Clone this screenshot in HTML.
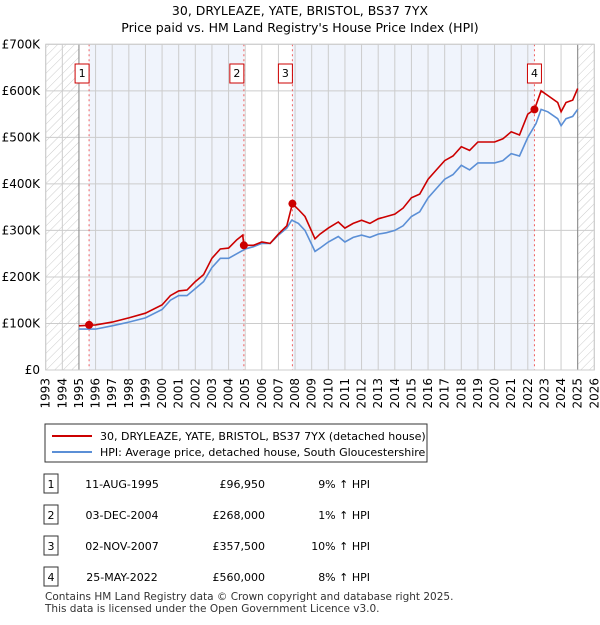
<!DOCTYPE html>
<html><head><meta charset="utf-8"><style>
body{margin:0;background:#fff;font-family:"Liberation Sans","DejaVu Sans",sans-serif;}
svg text{font-family:"DejaVu Sans","Liberation Sans",sans-serif;}
</style></head><body>
<svg id="c" width="600" height="620" xmlns="http://www.w3.org/2000/svg">
<defs><pattern id="h" width="6" height="6" patternUnits="userSpaceOnUse" patternTransform="rotate(45)"><line x1="0" y1="0" x2="0" y2="6" stroke="#ccc" stroke-width="1"/></pattern></defs>
<text x="300" y="15" text-anchor="middle" font-size="12.5">30, DRYLEAZE, YATE, BRISTOL, BS37 7YX</text>
<text x="300" y="32" text-anchor="middle" font-size="12.5">Price paid vs. HM Land Registry's House Price Index (HPI)</text>
<g id="plot"></g>
<g>
<rect x="45" y="424" width="382" height="38" fill="#fff" stroke="#333"/>
<line x1="52" y1="436" x2="92" y2="436" stroke="#cc0000" stroke-width="2"/>
<text x="100" y="440" font-size="11">30, DRYLEAZE, YATE, BRISTOL, BS37 7YX (detached house)</text>
<line x1="52" y1="452" x2="92" y2="452" stroke="#5b8fd6" stroke-width="2"/>
<text x="100" y="456" font-size="11">HPI: Average price, detached house, South Gloucestershire</text>
</g>
<g id="tbl" font-size="11"></g>
<text x="45" y="600" font-size="10.5" fill="#333">Contains HM Land Registry data © Crown copyright and database right 2025.</text>
<text x="45" y="612" font-size="10.5" fill="#333">This data is licensed under the Open Government Licence v3.0.</text>
</svg>
<script>
const hpiX=[1995.0,1996,1997,1998,1999,2000,2000.5,2001,2001.5,2002,2002.5,2003,2003.5,2004,2004.5,2005,2005.5,2006,2006.5,2007,2007.5,2007.8,2008.2,2008.6,2009.2,2009.5,2010,2010.6,2011,2011.5,2012,2012.5,2013,2013.5,2014,2014.5,2015,2015.5,2016,2016.5,2017,2017.5,2018,2018.5,2019,2019.5,2020,2020.5,2021,2021.5,2022,2022.5,2022.8,2023.2,2023.8,2024.0,2024.3,2024.7,2025.0];
const hpiV=[88,88,95,103,112,130,150,160,160,175,190,220,240,240,250,260,265,272,272,290,305,322,315,300,255,262,275,287,275,285,290,285,292,295,300,310,330,340,370,390,410,420,440,430,445,445,445,450,465,460,500,530,560,555,540,525,540,545,560];
const paidX=[1995.0,1996,1997,1998,1999,2000,2000.5,2001,2001.5,2002,2002.5,2003,2003.5,2004,2004.5,2004.85,2004.92,2005.5,2006,2006.5,2007,2007.5,2007.84,2008.2,2008.6,2009.2,2009.5,2010,2010.6,2011,2011.5,2012,2012.5,2013,2013.5,2014,2014.5,2015,2015.5,2016,2016.5,2017,2017.5,2018,2018.5,2019,2019.5,2020,2020.5,2021,2021.5,2022,2022.4,2022.8,2023.2,2023.8,2024.0,2024.3,2024.7,2025.0];
const paidV=[95,97,103,112,122,140,160,170,172,190,205,240,260,262,280,290,268,268,275,272,292,310,357.5,345,330,282,292,305,318,305,315,322,315,325,330,335,348,370,378,410,430,450,460,480,472,490,490,490,497,512,505,550,560,600,590,575,555,575,580,605];
const saleX=[1995.61,2004.92,2007.84,2022.4];
const saleV=[96.95,268,357.5,560];
const saleLabels=["1","2","3","4"];
const saleDates=["11-AUG-1995","03-DEC-2004","02-NOV-2007","25-MAY-2022"];
const salePrices=["£96,950","£268,000","£357,500","£560,000"];
const saleHpi=["9% ↑ HPI","1% ↑ HPI","10% ↑ HPI","8% ↑ HPI"];
const yTicks=[0,100,200,300,400,500,600,700];
const yLabels=["£0","£100K","£200K","£300K","£400K","£500K","£600K","£700K"];
const xYears=[1993,1994,1995,1996,1997,1998,1999,2000,2001,2002,2003,2004,2005,2006,2007,2008,2009,2010,2011,2012,2013,2014,2015,2016,2017,2018,2019,2020,2021,2022,2023,2024,2025,2026];
const X0=45.7,X1=594.3,Y0=370,Y1=44.3;
const xs=y=>X0+(y-1993)/33*(X1-X0);
const ys=v=>Y0-v/700*(Y0-Y1);
const NS="http://www.w3.org/2000/svg";
const g=document.getElementById('plot');
function mk(t,a,p){const e=document.createElementNS(NS,t);for(const k in a)e.setAttribute(k,a[k]);(p||g).appendChild(e);return e;}
let e;
e=mk('rect',{x:xs(1993),y:Y1,width:xs(1995)-xs(1993),height:Y0-Y1,fill:'url(#h)'});


e=mk('rect',{x:xs(2025.0),y:Y1,width:X1-xs(2025.0),height:Y0-Y1,fill:'url(#h)'});


e=mk('rect',{x:xs(saleX[0]),y:Y1,width:xs(saleX[1])-xs(saleX[0]),height:Y0-Y1,fill:'#f0f4fc'});


e=mk('rect',{x:xs(saleX[2]),y:Y1,width:xs(saleX[3])-xs(saleX[2]),height:Y0-Y1,fill:'#f0f4fc'});


xYears.forEach(y=>{e=mk('line',{x1:xs(y),x2:xs(y),y1:Y1,y2:Y0,stroke:'#ccc','stroke-width':1});


e=mk('text',{x:0,y:0,'font-size':12,'text-anchor':'end',transform:`translate(${xs(y)+4},${Y0+8}) rotate(-90)`});e.textContent=y;

});
yTicks.forEach((v,i)=>{e=mk('line',{x1:X0,x2:X1,y1:ys(v),y2:ys(v),stroke:'#ccc','stroke-width':1});


e=mk('text',{x:40,y:ys(v)+4,'font-size':12,'text-anchor':'end'});e.textContent=yLabels[i];

});
[1995,2025.0].forEach(y=>{e=mk('line',{x1:xs(y),x2:xs(y),y1:Y1,y2:Y0,stroke:'#888','stroke-width':1});

});
saleX.forEach((x,i)=>{e=mk('line',{x1:xs(x),x2:xs(x),y1:Y1,y2:Y0,stroke:'#f06060','stroke-width':1,'stroke-dasharray':'2,3'});


e=mk('rect',{x:xs(x)-(i==3?3:10)-4,y:64,width:14,height:19,fill:'#fff',stroke:'#cc0000'});


e=mk('text',{x:xs(x)-(i==3?3:10)+3,y:77,'font-size':11,'text-anchor':'middle'});e.textContent=saleLabels[i];

});
function path(xa,va,col,name){e=mk('path',{d:xa.map((x,i)=>(i?'L':'M')+xs(x).toFixed(1)+','+ys(va[i]).toFixed(1)).join(''),fill:'none',stroke:col,'stroke-width':1.6});

}
path(hpiX,hpiV,'#5b8fd6','hpi-line');
path(paidX,paidV,'#cc0000','price-paid-line');
saleX.forEach((x,i)=>{e=mk('circle',{cx:xs(x),cy:ys(saleV[i]),r:4,fill:'#cc0000'});

});
e=mk('rect',{x:X0,y:Y1,width:X1-X0,height:Y0-Y1,fill:'none',stroke:'#ccc'});
const t=document.getElementById('tbl');
saleLabels.forEach((l,i)=>{const y=484+i*31;
e=mk('rect',{x:44,y:y-10,width:14,height:19,fill:'#fff',stroke:'#333'},t);


e=mk('text',{x:51,y:y+4,'text-anchor':'middle'},t);e.textContent=l;


e=mk('text',{x:122,y:y+4,'text-anchor':'middle'},t);e.textContent=saleDates[i];


e=mk('text',{x:265,y:y+4,'text-anchor':'end'},t);e.textContent=salePrices[i];


e=mk('text',{x:370,y:y+4,'text-anchor':'end'},t);e.textContent=saleHpi[i];

});
</script>
</body></html>
